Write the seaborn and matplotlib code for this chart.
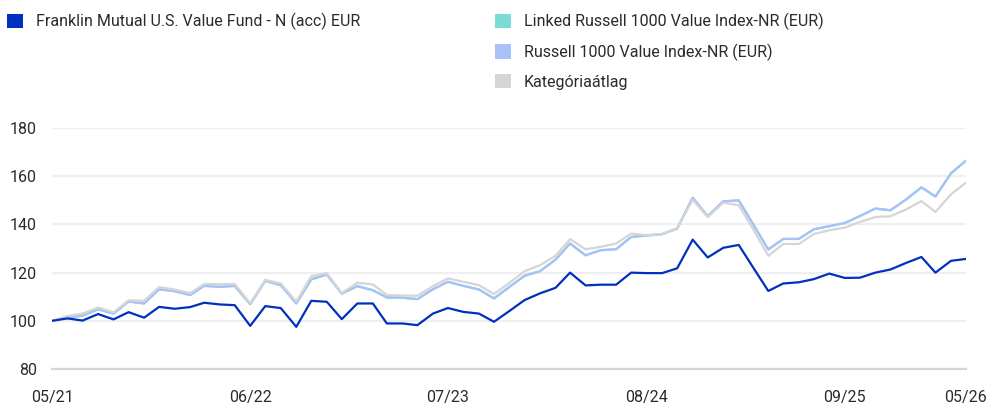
import pandas as pd
import seaborn as sns
import matplotlib.pyplot as plt
import matplotlib.dates as mdates
from matplotlib.patches import Patch

# ---- data (growth of 100, monthly, 05/21 - 05/26) ----
dates = pd.date_range("2021-05-01", periods=61, freq="MS")

fund = [100, 101, 100.1, 102.8, 100.6, 103.6, 101.3, 105.8, 105.0, 105.7,
        107.5, 106.8, 106.5, 97.9, 106.1, 105.3, 97.5, 108.3, 107.9, 100.7,
        107.2, 107.2, 98.9, 98.9, 98.2, 103.0, 105.3, 103.7, 103.0, 99.6,
        104.1, 108.6, 111.4, 113.7, 120.0, 114.7, 115.0, 115.0, 120.0, 119.8,
        119.8, 121.8, 133.7, 126.3, 130.3, 131.5, 122.4, 112.4, 115.5, 116.0,
        117.3, 119.6, 117.8, 117.9, 120.0, 121.3, 124.0, 126.5, 120.0, 124.9,
        125.7]

russell = [100, 101.4, 102.1, 104.8, 103.0, 108.0, 107.2, 113.1, 112.3, 110.7,
           114.5, 114.1, 114.5, 106.9, 116.6, 114.8, 107.2, 117.2, 119.2, 111.3,
           114.4, 112.7, 109.7, 109.6, 109.0, 113.1, 116.2, 114.5, 113.0, 109.3,
           114.1, 118.7, 120.6, 125.4, 132.1, 127.2, 129.3, 129.7, 134.8, 135.4,
           136.0, 138.3, 151.1, 143.4, 149.6, 150.0, 140.4, 129.6, 134.0, 134.0,
           138.0, 139.3, 140.6, 143.5, 146.6, 145.9, 150.3, 155.4, 151.6, 161.2,
           166.5]

linked = list(russell)

category = [100, 102.0, 103.0, 105.5, 103.5, 108.5, 108.3, 114.0, 113.0, 111.5,
            115.3, 115.2, 115.3, 107.3, 117.0, 115.5, 108.0, 118.5, 119.8, 111.5,
            115.8, 115.1, 110.7, 110.5, 110.4, 114.4, 117.6, 116.2, 114.8, 111.1,
            115.8, 120.6, 123.1, 127.0, 133.9, 129.7, 130.7, 132.1, 136.2, 135.6,
            136.0, 138.5, 150.3, 143.0, 149.0, 148.0, 138.3, 127.0, 131.9, 131.9,
            136.0, 137.6, 138.7, 141.0, 143.1, 143.4, 146.2, 149.7, 145.2, 152.5,
            157.4]

names = ["Franklin Mutual U.S. Value Fund - N (acc) EUR",
         "Linked Russell 1000 Value Index-NR (EUR)",
         "Russell 1000 Value Index-NR (EUR)",
         "Kategóriaátlag"]
colors = ["#0030be", "#7cdcd3", "#a9c1f7", "#d5d5d8"]

tick_dates = pd.to_datetime(["2021-05-01", "2022-06-01", "2023-07-01",
                             "2024-08-01", "2025-09-01", "2026-05-01"])

df = pd.DataFrame({"date": dates, names[0]: fund, names[1]: linked,
                   names[2]: russell, names[3]: category})
long = df.melt(id_vars="date", var_name="series", value_name="value")

# ---- plot ----
sns.set_style("white")
plt.rcParams["font.family"] = ["Roboto", "DejaVu Sans"]
plt.rcParams["text.color"] = "#2b2b2b"
fs = 11.5

fig = plt.figure(figsize=(9.87, 4.08), dpi=100)
ax = fig.add_axes([0.0527, 0.0956, 0.926, 0.5904])

palette = dict(zip(names, colors))
sns.lineplot(data=long, x="date", y="value", hue="series",
             hue_order=[names[1], names[2], names[3], names[0]],
             palette=palette, linewidth=1.6, legend=False, ax=ax)

ax.set_ylim(80, 180)
ax.set_yticks([80, 100, 120, 140, 160, 180])
ax.set_xlim(dates[0], dates[-1])
ax.set_xticks(tick_dates)
ax.xaxis.set_major_formatter(mdates.DateFormatter("%m/%y"))
ax.set_xlabel("")
ax.set_ylabel("")

ax.grid(axis="y", color="#efefef", linewidth=1.6)
ax.set_axisbelow(True)
for side in ["left", "right", "top"]:
    ax.spines[side].set_visible(False)
ax.spines["bottom"].set_color("#d6d6d6")
ax.spines["bottom"].set_linewidth(1.6)
ax.tick_params(axis="y", length=0, pad=11, labelsize=fs, labelcolor="#2b2b2b")
ax.tick_params(axis="x", length=7, width=1.6, color="#d6d6d6", pad=8,
               labelsize=fs, labelcolor="#2b2b2b")

# ---- legends ----
def handles(idx):
    return [Patch(facecolor=colors[i], edgecolor="none") for i in idx]

common = dict(loc="upper left", frameon=False, fontsize=fs,
              handlelength=1.0, handleheight=1.0, handletextpad=0.8,
              labelspacing=0.83, borderaxespad=0.0, borderpad=0.3)
fig.legend(handles([0]), [names[0]], bbox_to_anchor=(0.002, 0.98), **common)
fig.legend(handles([1, 2, 3]), names[1:], bbox_to_anchor=(0.497, 0.98), **common)

fig.savefig("out.png", dpi=100)
